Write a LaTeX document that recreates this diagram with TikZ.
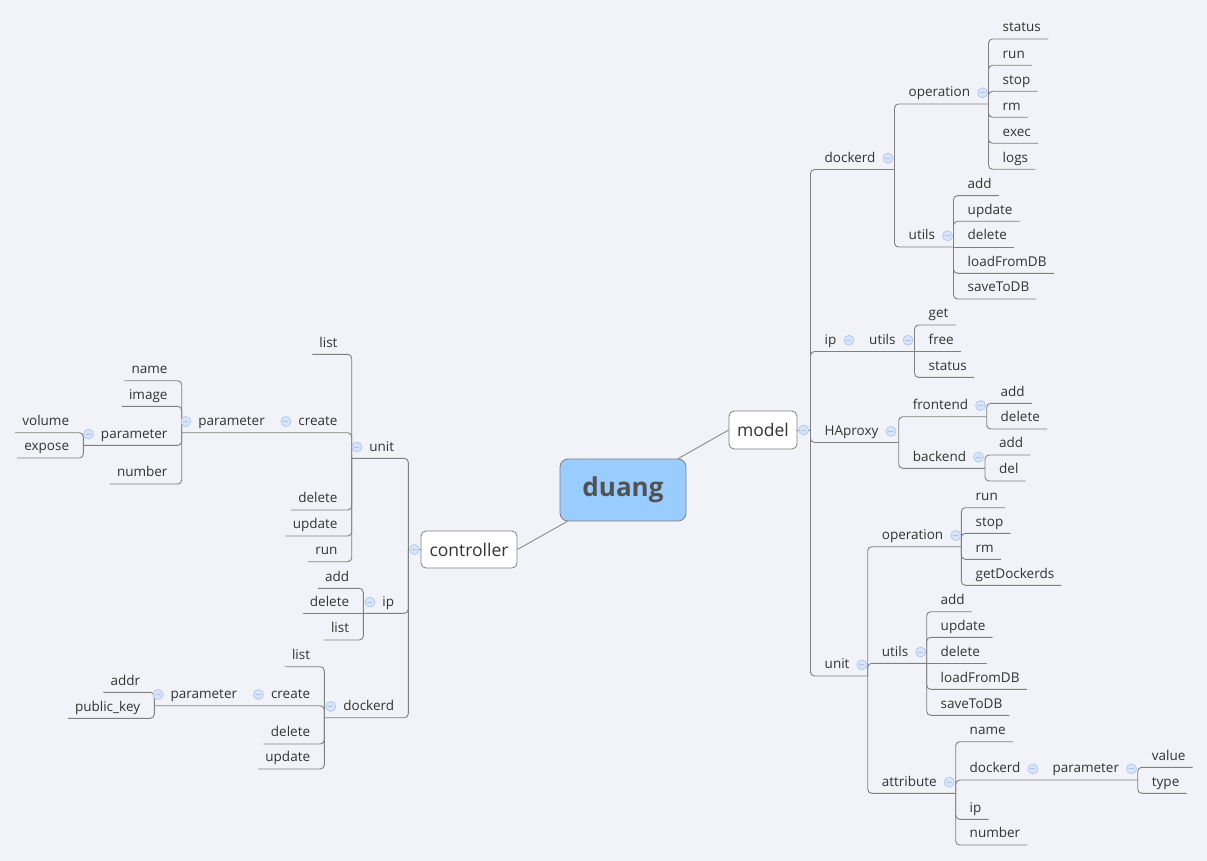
\documentclass[tikz,border=0pt]{standalone}
\usepackage{fontspec}
\setmainfont{Open Sans}
\usepackage{tikz}
\usetikzlibrary{positioning}
\definecolor{paper}{HTML}{F2F3F8}
\definecolor{wire}{HTML}{808080}
\definecolor{ink}{HTML}{333333}
\definecolor{rootblue}{HTML}{99CCFF}
\definecolor{foldfill}{HTML}{D8E4F8}
\definecolor{foldedge}{HTML}{A9C2EC}

\begin{document}
\begin{tikzpicture}[x=1pt, y=-1pt,
    branch/.style={draw=wire, line width=0.9pt, rounded corners=4pt},
    topicR/.style={anchor=south west, inner xsep=7pt, inner ysep=4pt,
      text depth=3pt, text height=11pt, text=ink,
      font=\fontsize{13.5}{15}\selectfont},
    topicL/.style={topicR, anchor=south east},
    mainbox/.style={draw=wire, fill=white, rounded corners=5pt, line width=0.8pt,
      minimum height=38pt, text=ink, font=\fontsize{17.5}{20}\selectfont},
    fold/.style={circle, draw=foldedge, fill=foldfill, minimum size=10pt,
      inner sep=0pt, line width=0.6pt,
      path picture={\draw[foldedge, line width=0.8pt]
        ([xshift=-2.5pt]path picture bounding box.center) --
        ([xshift=2.5pt]path picture bounding box.center);}}]

  \fill[paper] (0,0) rectangle (1207,861);

  % central topic
  \node[draw=wire, fill=rootblue, rounded corners=8pt, line width=0.8pt,
    minimum width=126pt, minimum height=62pt, text=ink!85,
    font=\bfseries\fontsize{26}{30}\selectfont] (duang) at (623,490) {duang};
  \node[mainbox, minimum width=68pt] (model) at (763,430) {model};
  \node[mainbox, minimum width=96pt, minimum height=37pt] (controller) at (469,549.5) {controller};
  \draw[wire, line width=0.8pt] (duang) -- (model.west);
  \draw[wire, line width=0.8pt] (duang) -- (controller.east);

  % ---------------- model ----------------
  \coordinate (m-bar) at (810.5,430);
  \draw[branch] (model.east) -- (m-bar);

  % model / dockerd
  \coordinate (md-bar) at (894.5,169.5);
  \node[topicR] (md) at (817.5,169.5) {dockerd};
  \draw[branch] (m-bar) |- (md-bar);
  \coordinate (mdo-bar) at (988.5,104);
  \node[topicR] (mdo) at (901.5,104) {operation};
  \draw[branch] (md-bar) |- (mdo-bar);
  \foreach \t/\y in {status/39, run/65.3, stop/91.3, rm/117.3, exec/143.3, logs/169.3} {
    \node[topicR] (mdo-\t) at (995.5,\y) {\t};
    \draw[branch] (mdo-bar) |- (mdo-\t.south east);
  }
  \coordinate (mdu-bar) at (953.5,247);
  \node[topicR] (mdu) at (901.5,247) {utils};
  \draw[branch] (md-bar) |- (mdu-bar);
  \foreach \t/\y in {add/195.7, update/221.3, loadFromDB/273.3, saveToDB/299} {
    \node[topicR] (mdu-\t) at (960.5,\y) {\t};
    \draw[branch] (mdu-bar) |- (mdu-\t.south east);
  }
  \node[topicR] (mdu-delete) at (960.5,247) {delete};
  \draw[branch] (mdu-bar) -- (mdu-delete.south east);

  % model / ip
  \coordinate (miu-bar) at (914.5,351.5);
  \node[topicR] (mi) at (817.5,351.5) {ip};
  \node[topicR] (miu) at (862,351.5) {utils};
  \draw[branch] (m-bar) |- (miu-bar);
  \foreach \t/\y in {get/325, status/377.3} {
    \node[topicR] (miu-\t) at (921.5,\y) {\t};
    \draw[branch] (miu-bar) |- (miu-\t.south east);
  }
  \node[topicR] (miu-free) at (921.5,351.5) {free};
  \draw[branch] (miu-bar) -- (miu-free.south east);

  % model / HAproxy
  \coordinate (mh-bar) at (898.7,442.5);
  \node[topicR] (mh) at (817.5,442.5) {HAproxy};
  \draw[branch] (m-bar) |- (mh-bar);
  \coordinate (mhf-bar) at (986.7,416.7);
  \node[topicR] (mhf) at (905.7,416.7) {frontend};
  \draw[branch] (mh-bar) |- (mhf-bar);
  \foreach \t/\y in {add/403.3, delete/429} {
    \node[topicR] (mhf-\t) at (993.5,\y) {\t};
    \draw[branch] (mhf-bar) |- (mhf-\t.south east);
  }
  \coordinate (mhb-bar) at (985,468.3);
  \node[topicR] (mhb) at (905.7,468.3) {backend};
  \draw[branch] (mh-bar) |- (mhb-bar);
  \foreach \t/\y in {add/455, del/481} {
    \node[topicR] (mhb-\t) at (992,\y) {\t};
    \draw[branch] (mhb-bar) |- (mhb-\t.south east);
  }

  % model / unit
  \coordinate (mu-bar) at (867.7,676);
  \node[topicR] (mu) at (817.5,676) {unit};
  \draw[branch] (m-bar) |- (mu-bar);
  \coordinate (muo-bar) at (961.3,546.7);
  \node[topicR] (muo) at (874.7,546.7) {operation};
  \draw[branch] (mu-bar) |- (muo-bar);
  \foreach \t/\y in {run/507.7, stop/533.3, rm/559.3, getDockerds/585.3} {
    \node[topicR] (muo-\t) at (968.5,\y) {\t};
    \draw[branch] (muo-bar) |- (muo-\t.south east);
  }
  \coordinate (muu-bar) at (926.7,663.3);
  \node[topicR] (muu) at (874.7,663.3) {utils};
  \draw[branch] (mu-bar) |- (muu-bar);
  \foreach \t/\y in {add/611.7, update/637.3, loadFromDB/689.3, saveToDB/715.3} {
    \node[topicR] (muu-\t) at (933.5,\y) {\t};
    \draw[branch] (muu-bar) |- (muu-\t.south east);
  }
  \node[topicR] (muu-delete) at (933.5,663.3) {delete};
  \draw[branch] (muu-bar) -- (muu-delete.south east);
  \coordinate (mua-bar) at (955.7,793.3);
  \node[topicR] (mua) at (874.7,793.3) {attribute};
  \draw[branch] (mu-bar) |- (mua-bar);
  \foreach \t/\y in {name/741.7, ip/819.3, number/845} {
    \node[topicR] (mua-\t) at (962.5,\y) {\t};
    \draw[branch] (mua-bar) |- (mua-\t.south east);
  }
  \coordinate (muap-bar) at (1137.7,780);
  \node[topicR] (muad) at (962.5,780) {dockerd};
  \node[topicR] (muap) at (1045.3,780) {parameter};
  \draw[branch] (mua-bar) |- (muap-bar);
  \foreach \t/\y in {value/767.3, type/793.3} {
    \node[topicR] (muap-\t) at (1144.7,\y) {\t};
    \draw[branch] (muap-bar) |- (muap-\t.south east);
  }

  % ---------------- controller ----------------
  \coordinate (c-bar) at (408.3,549.5);
  \draw[branch] (controller.west) -- (c-bar);

  % controller / unit
  \coordinate (cu-bar) at (351.7,458.3);
  \node[topicL] (cu) at (401.3,458.3) {unit};
  \draw[branch] (c-bar) |- (cu-bar);
  \foreach \t/\y in {list/354.3, delete/510, update/536, run/561.7} {
    \node[topicL] (cu-\t) at (344.7,\y) {\t};
    \draw[branch] (cu-bar) |- (cu-\t.south west);
  }
  \coordinate (cup-bar) at (181.7,432.7);
  \node[topicL] (cuc) at (344.7,432.7) {create};
  \node[topicL] (cup) at (272,432.7) {parameter};
  \draw[branch] (cu-bar) |- (cup-bar);
  \foreach \t/\y in {name/380.7, image/406.3, number/484} {
    \node[topicL] (cup-\t) at (174.7,\y) {\t};
    \draw[branch] (cup-bar) |- (cup-\t.south west);
  }
  \coordinate (cupp-bar) at (83.3,445.3);
  \node[topicL] (cupp) at (174.7,445.3) {parameter};
  \draw[branch] (cup-bar) |- (cupp-bar);
  \foreach \t/\y in {volume/432.7, expose/458} {
    \node[topicL] (cupp-\t) at (76.3,\y) {\t};
    \draw[branch] (cupp-bar) |- (cupp-\t.south west);
  }

  % controller / ip
  \coordinate (ci-bar) at (363.3,613.3);
  \node[topicL] (ci) at (401.3,613.3) {ip};
  \draw[branch] (c-bar) |- (ci-bar);
  \foreach \t/\y in {add/588.3, list/640} {
    \node[topicL] (ci-\t) at (356.3,\y) {\t};
    \draw[branch] (ci-bar) |- (ci-\t.south west);
  }
  \node[topicL] (ci-delete) at (356.3,613.3) {delete};
  \draw[branch] (ci-bar) -- (ci-delete.south west);

  % controller / dockerd
  \coordinate (cd-bar) at (324.3,717.7);
  \node[topicL] (cd) at (401.3,717.7) {dockerd};
  \draw[branch] (c-bar) |- (cd-bar);
  \foreach \t/\y in {list/666.7, delete/744, update/769} {
    \node[topicL] (cd-\t) at (317.3,\y) {\t};
    \draw[branch] (cd-bar) |- (cd-\t.south west);
  }
  \coordinate (cdp-bar) at (154.3,705.7);
  \node[topicL] (cdc) at (317.3,705.7) {create};
  \node[topicL] (cdp) at (244.3,705.7) {parameter};
  \draw[branch] (cd-bar) |- (cdp-bar);
  \node[topicL] (cdp-addr) at (147.3,692.3) {addr};
  \node[topicL] (cdp-key) at (147.3,718.3) {public\_key};
  \draw[branch] (cdp-bar) |- (cdp-addr.south west);
  \draw[branch] (cdp-bar) |- (cdp-key.south west);

  % fold markers
  \node[fold, right=1pt of model] (f-model) {};
  \node[fold, left=1pt of controller] (f-controller) {};
  \foreach \n in {md, mdo, mdu, mi, miu, mh, mhf, mhb, mu, muo, muu, mua, muad, muap}
    \node[fold, right=0pt of \n] (f-\n) {};
  \foreach \n in {cu, cuc, cup, cupp, ci, cd, cdc, cdp}
    \node[fold, left=0pt of \n] (f-\n) {};
\end{tikzpicture}
\end{document}
